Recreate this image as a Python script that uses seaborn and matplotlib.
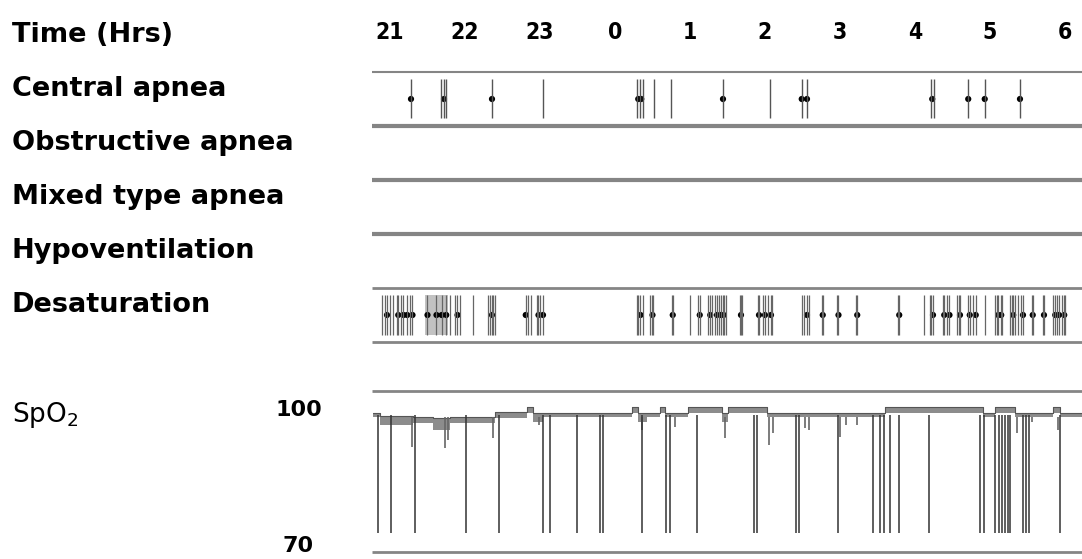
import numpy as np
import pandas as pd
import matplotlib
matplotlib.use('Agg')
import matplotlib.pyplot as plt
import matplotlib.transforms as mtransforms
from matplotlib import font_manager
import seaborn as sns

sns.set_theme(style='white')
plt.rcParams['font.family'] = ['DejaVu Sans']
plt.rcParams.update({'text.color': 'black', 'xtick.color': 'black', 'ytick.color': 'black'})

# %%
# time axis (hours, 21h -> 6h next day as 21..30)
hour_ticks = [21, 22, 23, 24, 25, 26, 27, 28, 29, 30]
hour_labels = ['21', '22', '23', '0', '1', '2', '3', '4', '5', '6']
row_labels = ['Central apnea', 'Obstructive apnea', 'Mixed type apnea', 'Hypoventilation', 'Desaturation']

# central apnea events (hours)
central_lines = [21.28, 21.68, 21.72, 21.75, 22.36, 23.04, 24.29, 24.33, 24.37, 24.52,
                 24.75, 25.44, 26.07, 26.49, 26.56, 28.21, 28.25, 28.71, 28.93, 29.40]
central_dots = [21.28, 21.72, 22.36, 24.31, 24.35, 25.44, 26.49, 26.56, 28.23, 28.71, 28.93, 29.40]

# desaturation events (hours)
desat_dots = [20.96, 21.11, 21.18, 21.23, 21.30, 21.50, 21.62, 21.69, 21.75, 21.90, 22.36,
              22.81, 22.98, 23.04, 24.34, 24.50, 24.77, 25.13, 25.27, 25.36, 25.41, 25.45,
              25.68, 25.92, 26.00, 26.08, 26.56, 26.77, 26.98, 27.23, 27.79, 28.24, 28.39,
              28.46, 28.60, 28.73, 28.81, 29.11, 29.15, 29.31, 29.44, 29.57, 29.72, 29.87,
              29.92, 29.99]
desat_lines = [20.90, 20.93, 21.00, 21.04, 21.09, 21.15, 21.27, 21.80, 21.87, 21.93, 22.11,
               22.31, 22.33, 22.38, 22.40, 22.84, 22.88, 22.96, 23.00, 24.29, 24.31, 24.37,
               24.47, 24.51, 24.76, 25.00, 25.11, 25.24, 25.29, 25.33, 25.39, 25.44, 25.48,
               25.67, 25.70, 25.91, 25.98, 26.04, 26.10, 26.49, 26.52, 26.56, 26.59, 26.76,
               26.96, 27.22, 27.78, 28.12, 28.20, 28.22, 28.38, 28.43, 28.56, 28.59, 28.71,
               28.78, 28.93, 29.07, 29.09, 29.16, 29.27, 29.30, 29.33, 29.38, 29.42, 29.56,
               29.71, 29.84, 29.89, 29.96, 30.00]
desat_dense_start = [21.47]
desat_dense_end = [21.77]

# SpO2 trace: band per epoch (hours, % range)
spo2_seg_start = [20.77, 20.87, 21.31, 21.57, 21.80, 22.40, 22.83, 22.91, 23.04, 24.23, 24.31,
                  24.43, 24.60, 24.67, 24.97, 25.43, 25.51, 26.03, 27.60, 28.91, 29.07, 29.33,
                  29.84, 29.93]
spo2_seg_end = spo2_seg_start[1:] + [30.23]
spo2_seg_hi = [98.9, 98.3, 98.1, 97.9, 98.1, 99.1, 100.2, 98.9, 98.9, 100.2, 98.9, 98.9,
               100.2, 98.9, 100.2, 98.9, 100.2, 98.9, 100.2, 98.9, 100.2, 98.9, 100.2, 98.9]
spo2_seg_lo = [98.1, 96.4, 96.8, 95.4, 96.8, 97.9, 98.9, 97.0, 98.1, 98.9, 97.0, 98.1,
               98.9, 98.1, 98.9, 97.0, 98.9, 98.1, 98.9, 98.1, 98.9, 98.1, 98.9, 98.1]
# short dips
spo2_dip_time = [21.29, 21.73, 21.77, 22.37, 22.99, 24.36, 24.80, 25.47, 26.05, 26.11, 26.53,
                 26.59, 27.00, 27.08, 27.23, 29.36, 29.56, 29.91]
spo2_dip_min = [91.8, 91.6, 93.3, 93.7, 96.4, 95.4, 96.0, 93.7, 92.3, 94.8, 95.8, 95.4, 93.9,
                96.4, 96.4, 94.8, 97.0, 95.4]
# deep drops
spo2_drop_time = [20.84, 21.01, 21.34, 22.01, 22.46, 23.04, 23.13, 23.49, 23.80, 23.84, 24.36,
                  24.68, 24.73, 25.09, 25.85, 25.90, 26.42, 26.46, 26.98, 27.44, 27.53, 27.59,
                  27.67, 27.79, 28.19, 28.87, 28.92, 29.07, 29.12, 29.16, 29.20, 29.24, 29.27,
                  29.44, 29.48, 29.52, 29.94]
spo2_drop_min = 74

# %%
W, H = 1082, 559
fig = plt.figure(figsize=(W / 100, H / 100), dpi=100)
xlim = (20.76, 30.227)
rule_color = '#858585'

# narrow bold font for the hour row, if one is installed
fonts = font_manager.fontManager.ttflist
if any(f.name == 'Liberation Sans Narrow' for f in fonts):
    hour_font, hour_stretch = 'Liberation Sans Narrow', 'normal'
elif any(f.name == 'DejaVu Sans' and f.stretch == 'condensed' for f in fonts):
    hour_font, hour_stretch = 'DejaVu Sans', 'condensed'
else:
    hour_font, hour_stretch = 'Liberation Sans', 'normal'

# event tracks
ax = fig.add_axes([372 / W, 1 - 342 / H, 710 / W, 270 / H])
ax.set_xlim(*xlim)
ax.set_ylim(5, 0)
ax.hlines([0, 1, 2, 3, 4, 5], *xlim, colors=rule_color, lw=[1.5, 3, 3, 3, 2, 2], clip_on=False)

ax.vlines(central_lines, 0.13, 0.86, colors='#555555', lw=1.0)
for s, e in zip(desat_dense_start, desat_dense_end):
    ax.fill_between([s, e], 4.13, 4.87, color='#9a9a9a', alpha=0.6, lw=0)
ax.vlines(sorted(set(desat_lines + desat_dots)), 4.13, 4.87, colors='#666666', lw=0.9)

sns.scatterplot(x=central_dots, y=[0.5] * len(central_dots), ax=ax, color='black',
                marker='o', s=20, edgecolor='none')
sns.scatterplot(x=desat_dots, y=[4.5] * len(desat_dots), ax=ax, color='black',
                marker='o', s=20, edgecolor='none')

ax.set_xticks(hour_ticks)
ax.set_xticklabels(hour_labels, fontfamily=hour_font, fontstretch=hour_stretch,
                   fontweight='bold', fontsize=16.5)
ax.tick_params(axis='x', top=True, labeltop=True, bottom=False, labelbottom=False, length=0, pad=20)
ax.set_yticks([])
ax.set_xlabel('')
ax.set_ylabel('')
sns.despine(ax=ax, left=True, bottom=True)

# SpO2 panel
ax2 = fig.add_axes([372 / W, 1 - 552 / H, 710 / W, 161 / H])
ax2.set_xlim(*xlim)
ax2.set_ylim(70, 103.5)
ax2.hlines([103.5, 70], *xlim, colors=rule_color, lw=2, clip_on=False)

trace = pd.DataFrame({
    'time': np.ravel(np.column_stack([spo2_seg_start, spo2_seg_end])),
    'hi': np.repeat(spo2_seg_hi, 2),
    'lo': np.repeat(spo2_seg_lo, 2),
})
ax2.fill_between(trace['time'], trace['lo'], trace['hi'], color='#8c8c8c', lw=0)
sns.lineplot(data=trace, x='time', y='hi', ax=ax2, sort=False, estimator=None, color='#555555', lw=0.8)
ax2.vlines(spo2_dip_time, 98.1, spo2_dip_min, colors='#666666', lw=1.2)
ax2.vlines(spo2_drop_time, 98.5, spo2_drop_min, colors='#333333', lw=1.1)

ax2.set_xticks([])
ax2.set_yticks([100, 70])
ax2.set_yticklabels(['100', '70'], fontweight='bold', fontsize=16)
ax2.tick_params(axis='y', left=False, length=0, pad=53)
for lab in ax2.get_yticklabels():
    lab.set_ha('center')
ax2.set_xlabel('')
ax2.set_ylabel('')
sns.despine(ax=ax2, left=True, bottom=True)

# the bottom tick label sits a little above its gridline, as in the scan
fig.canvas.draw()
lift = mtransforms.ScaledTranslation(0, 6 / 72, fig.dpi_scale_trans)
lab70 = ax2.yaxis.get_major_ticks()[1].label1
lab70.set_transform(lab70.get_transform() + lift)

# left labels
fig.text(12 / W, 1 - 42 / H, 'Time (Hrs)', fontsize=19.5, fontweight='bold', va='baseline')
for lab, base in zip(row_labels, [96, 150, 204, 258, 312]):
    fig.text(12 / W, 1 - base / H, lab, fontsize=19.5, fontweight='bold', va='baseline')
fig.text(12 / W, 1 - 422 / H, 'SpO$_\\mathregular{2}$', fontsize=19, va='baseline')

plt.savefig('out.png', dpi=100)
